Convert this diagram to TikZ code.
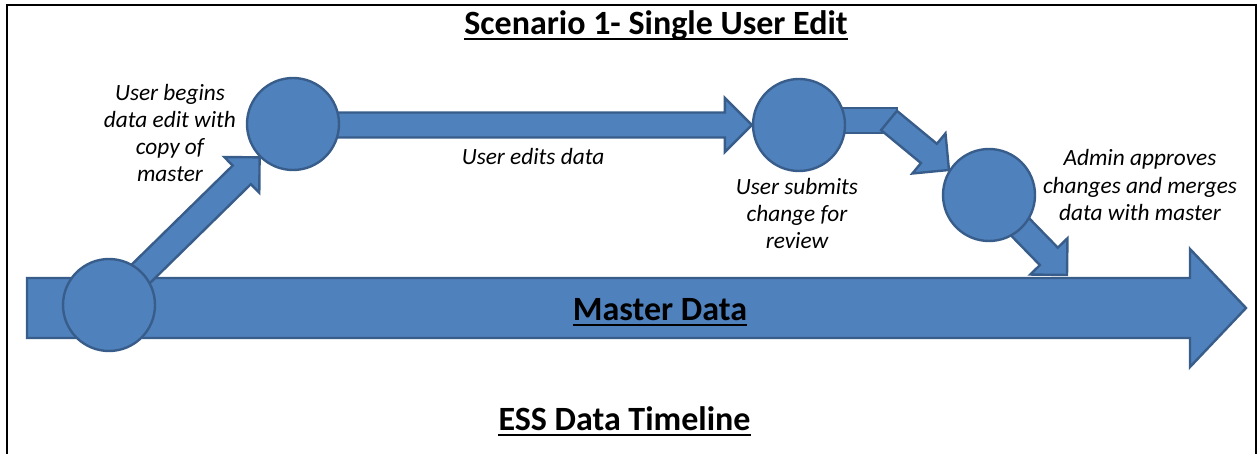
\documentclass[tikz,border=0pt]{standalone}
\usepackage{fontspec}
\setmainfont{Carlito}
\usetikzlibrary{calc}
\definecolor{blkfill}{HTML}{4F81BD}
\definecolor{blkline}{HTML}{385D8A}
\pgfdeclarelayer{back}
\pgfsetlayers{back,main}
% block arrow: #1 tail, #2 tip, #3 half shaft width, #4 half head width, #5 head length
\newcommand\BlkArrow[5]{%
  \coordinate (bn) at ($(#2)!#5!(#1)$);
  \draw[blk] ($(#1)!#3!90:(#2)$) -- ($(bn)!#3!90:(#2)$) -- ($(bn)!#4!90:(#2)$) -- (#2)
    -- ($(bn)!#4!-90:(#2)$) -- ($(bn)!#3!-90:(#2)$) -- ($(#1)!#3!-90:(#2)$) -- cycle;}
\begin{document}
\begin{tikzpicture}[x=1pt,y=-1pt,
  blk/.style={fill=blkfill,draw=blkline,line width=2.4pt,line join=miter},
  circ/.style={circle,fill=blkfill,draw=blkline,line width=2.4pt,minimum size=92pt,inner sep=0pt},
  lbl/.style={font=\fontsize{23.3}{27.3}\selectfont\itshape,align=center,inner sep=0pt},
  ttl/.style={font=\fontsize{34}{40}\selectfont\bfseries,inner sep=0pt,anchor=base},
  uline/.style={line width=2pt},
  frame/.style={line width=2.5pt,line join=miter}]
\useasboundingbox (0,0) rectangle (1257,454);
\draw[frame] (7,454) -- (7,5) -- (1255.8,5) -- (1255.8,454);
% circles
\node[circ] (c1) at (109,305) {};
\node[circ] (c2) at (293,124) {};
\node[circ] (c3) at (799,125) {};
\node[circ] (c4) at (989,195) {};
\coordinate (mtail) at (27,308);
\coordinate (mtip) at (1246,308);
\coordinate (a2) at (c2.center |- c3.center);
\coordinate (bend) at (889,120.5);
\coordinate (mjoin) at (1067,275);
\begin{pgfonlayer}{back}
\BlkArrow{mtail}{mtip}{30pt}{59pt}{56pt}
\BlkArrow{c1.center}{c2.225}{13pt}{25pt}{25pt}
\BlkArrow{a2}{c3.west}{12.5pt}{27pt}{27pt}
\draw[blk] (c3.center |- 0,108) rectangle (897,133);
\BlkArrow{bend}{c4.148}{12.5pt}{26pt}{26pt}
\BlkArrow{c4.center}{mjoin}{12.5pt}{26pt}{26pt}
\end{pgfonlayer}
% titles
\node[ttl] (t1) at (656,34.5) {Scenario 1- Single User Edit};
\node[ttl] (t2) at (660,320) {Master Data};
\node[ttl] (t3) at (624.5,430) {ESS Data Timeline};
\foreach \t in {t1,t2,t3}
  \draw[uline] ([yshift=-5pt]\t.base west) -- ([yshift=-5pt]\t.base east);
% labels
\node[lbl] (l1) at (170,133) {User begins\\data edit with\\copy of\\master};
\node[lbl,anchor=base] (l2) at (533,164.5) {User edits data};
\node[lbl] (l3) at (797,213.5) {User submits\\change for\\review};
\node[lbl] (l4) at (1140,185) {Admin approves\\changes and merges\\data with master};
\end{tikzpicture}
\end{document}
